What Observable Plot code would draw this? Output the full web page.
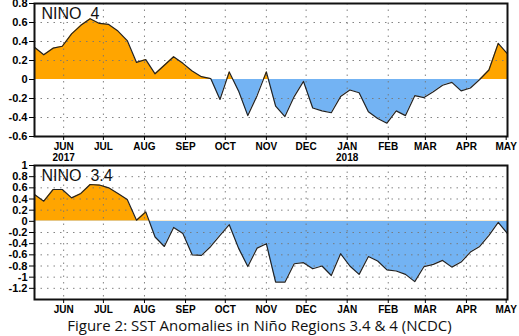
<!DOCTYPE html>
<html><head><meta charset="utf-8">
<script src="https://cdn.jsdelivr.net/npm/d3@7"></script>
<script src="https://cdn.jsdelivr.net/npm/@observablehq/plot@0.6"></script>
<style>
body{margin:0;background:#fff;width:519px;height:336px;overflow:hidden}
svg text{white-space:pre}
#caption{font-family:"Open Sans",sans-serif;font-size:15px;text-align:center;line-height:20px;color:#111;margin-top:0px}
</style></head><body><div id="chart"></div><div id="caption">Figure 2: SST Anomalies in Niño Regions 3.4 &amp; 4 (NCDC)</div>
<script>
// weekly values, first week centred on this date
const firstWeek = "2017-05-10";
const nino4 = [0.34,0.26,0.33,0.35,0.48,0.57,0.64,0.59,0.58,0.51,0.41,0.18,0.21,0.06,0.15,0.24,0.17,0.09,0.03,0.01,
  -0.21,0.08,-0.12,-0.38,-0.17,0.08,-0.28,-0.39,-0.18,-0.02,-0.30,-0.33,-0.35,-0.18,-0.11,-0.14,-0.34,-0.41,-0.46,-0.33,
  -0.38,-0.17,-0.19,-0.13,-0.06,-0.03,-0.12,-0.09,0.0,0.10,0.38,0.27];
const nino34 = [0.48,0.36,0.57,0.57,0.42,0.50,0.66,0.65,0.60,0.50,0.39,0.02,0.17,-0.28,-0.45,-0.11,-0.22,-0.60,-0.61,-0.45,
  -0.25,-0.06,-0.48,-0.81,-0.48,-0.40,-1.09,-1.09,-0.76,-0.74,-0.85,-0.80,-0.97,-0.58,-0.80,-0.95,-0.63,-0.71,-0.87,-0.89,
  -0.95,-1.08,-0.81,-0.77,-0.70,-0.82,-0.73,-0.55,-0.45,-0.25,-0.02,-0.22];
const lastWeek = "2018-05-02";
const monthTicks = ["2017-06-01","2017-07-01","2017-08-01","2017-09-01","2017-10-01","2017-11-01","2017-12-01",
  "2018-01-01","2018-02-01","2018-03-01","2018-04-01","2018-05-01"];
const monthLabels = ["JUN","JUL","AUG","SEP","OCT","NOV","DEC","JAN","FEB","MAR","APR","MAY"];
const yearTicks = ["2017-06-01","2018-01-01"];
const yearLabels = ["2017","2018"];
const nino4YTicks = [0.8,0.6,0.4,0.2,0,-0.2,-0.4,-0.6];
const nino4YDomain = [-0.6,0.8];
const nino34YTicks = [1,0.8,0.6,0.4,0.2,0,-0.2,-0.4,-0.6,-0.8,-1,-1.2];
const nino34YDomain = [-1.4,1];
const titles = ["NINO  4","NINO  3.4"];

const ORANGE = "#ffa500", BLUE = "#73b3f3";
const FONT = "Liberation Sans, Arial, sans-serif";
const parse = d3.utcParse("%Y-%m-%d");
const start = parse(firstWeek);
const months = monthTicks.map(parse);
const labelOf = new Map(months.map((d,i)=>[+d, monthLabels[i]]));

function panel(values, yDomain, yTicks, title, years, height, mb, id){
  const data = values.map((v,i)=>({date:d3.utcDay.offset(start, 7*i), v}));
  const gridYTicks = yTicks.filter(t=>t!==0 && t>yDomain[0] && t<yDomain[1]);
  const gridXTicks = months.filter((d,i)=>i<months.length-1);
  const marks = [
    Plot.areaY(data,{x:"date",y1:0,y2:"v",fill:ORANGE}),
    Plot.areaY(data,{x:"date",y1:0,y2:"v",fill:BLUE}),
    Plot.gridY(gridYTicks,{stroke:"#777",strokeOpacity:0.9,strokeDasharray:"1.5,5"}),
    Plot.gridX(gridXTicks,{stroke:"#777",strokeOpacity:0.9,strokeDasharray:"1.5,5"}),
    Plot.lineY(data,{x:"date",y:"v",stroke:"#222",strokeWidth:1.2}),
    Plot.frame({stroke:"#111",strokeWidth:2}),
    Plot.axisY(yTicks,{tickSize:5,tickPadding:2,tickFormat:d=>String(d),fontSize:11,fontWeight:"bold",fontFamily:FONT}),
    Plot.axisX(months,{tickSize:4,tickPadding:2,tickFormat:d=>labelOf.get(+d),fontSize:10,fontWeight:"bold",fontFamily:FONT}),
    Plot.text([title],{frameAnchor:"top-left",dx:7,dy:4,fontSize:16,fontFamily:FONT,fill:"#111"})
  ];
  if (years) marks.push(Plot.text(yearTicks.map((d,i)=>({date:parse(d), label:yearLabels[i]})),
    {x:"date",text:"label",frameAnchor:"bottom",lineAnchor:"middle",dy:21,fontSize:10,fontWeight:"bold",fontFamily:FONT}));
  const chart = Plot.plot({
    width:519, height, marginLeft:34, marginRight:12, marginTop:3, marginBottom:mb,
    style:{background:"#fff",overflow:"visible"},
    x:{type:"utc",domain:[start, parse(lastWeek)],label:null},
    y:{domain:yDomain,label:null},
    marks
  });
  const y0 = chart.scale("y").apply(0);
  const svg = d3.select(chart);
  const defs = svg.insert("defs",":first-child");
  defs.append("clipPath").attr("id",id+"pos").append("rect").attr("x",0).attr("y",0).attr("width",519).attr("height",y0);
  defs.append("clipPath").attr("id",id+"neg").append("rect").attr("x",0).attr("y",y0).attr("width",519).attr("height",height);
  const areas = svg.selectAll('g[aria-label="area"]').nodes();
  d3.select(areas[0]).attr("clip-path",`url(#${id}pos)`);
  d3.select(areas[1]).attr("clip-path",`url(#${id}neg)`);
  chart.style.display="block";
  return chart;
}
const root = document.getElementById("chart");
root.append(panel(nino4, nino4YDomain, nino4YTicks, titles[0], true, 162, 26, "p4"));
root.append(panel(nino34, nino34YDomain, nino34YTicks, titles[1], false, 153, 16, "p34"));
</script></body></html>
